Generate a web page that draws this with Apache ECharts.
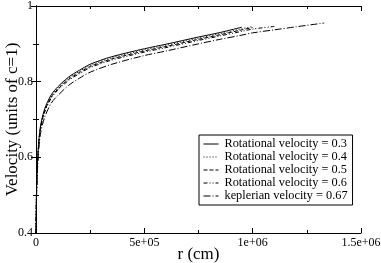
<!DOCTYPE html>
<html><head><meta charset="utf-8">
<script src="https://cdn.jsdelivr.net/npm/echarts@6/dist/echarts.min.js"></script>
<style>html,body{margin:0;padding:0;background:#fff}#c{width:381px;height:263px}</style>
</head><body><div id="c"></div>
<script>
const seriesNames = ['Rotational velocity = 0.3','Rotational velocity = 0.4','Rotational velocity = 0.5','Rotational velocity = 0.6','keplerian velocity = 0.67'];
const rGrid = [0, 2e3, 5e3, 1e4, 2e4, 4e4, 7e4, 1e5, 1.5e5, 2e5, 2.5e5, 3.5e5, 5e5, 6e5, 7.5e5, 8.5e5, 9.5e5, 1.0e6, 1.1e6, 1.2e6, 1.33e6];
const v03 = [0.40, 0.50, 0.56, 0.62, 0.68, 0.728, 0.765, 0.786, 0.812, 0.830, 0.846, 0.866, 0.887, 0.899, 0.918, 0.930, 0.944];
const v04 = [0.40, 0.497, 0.557, 0.617, 0.677, 0.725, 0.762, 0.783, 0.809, 0.827, 0.843, 0.863, 0.884, 0.896, 0.915, 0.927, 0.940, 0.946];
const v05 = [0.40, 0.494, 0.554, 0.614, 0.674, 0.722, 0.759, 0.780, 0.806, 0.824, 0.840, 0.860, 0.881, 0.893, 0.912, 0.924, 0.937, 0.943];
const v06 = [0.40, 0.491, 0.551, 0.611, 0.671, 0.719, 0.756, 0.777, 0.803, 0.821, 0.837, 0.857, 0.878, 0.890, 0.909, 0.921, 0.933, 0.939, 0.946];
const vKep = [0.40, 0.48, 0.54, 0.60, 0.66, 0.706, 0.743, 0.763, 0.790, 0.809, 0.825, 0.846, 0.869, 0.881, 0.900, 0.912, 0.923, 0.929, 0.937, 0.945, 0.955];
const xTicks = ['0','5e+05','1e+06','1.5e+06'];
const yTicks = ['0.4','0.6','0.8','1'];

const allV = [v03, v04, v05, v06, vKep];
const dashes = ['solid', [1,2], [4,2], [4,2,1,2,1,2], [7,2,1,2]];
const FONT = 'Liberation Serif';
const chart = echarts.init(document.getElementById('c'));
const axisCommon = {
  axisLine:{lineStyle:{color:'#000',width:1}},
  axisTick:{inside:true,length:5,lineStyle:{color:'#000'}},
  minorTick:{show:true,splitNumber:2,length:3,lineStyle:{color:'#000'}},
  splitLine:{show:false}
};
chart.setOption({
  animation:false,
  grid:{left:36,right:20,top:6,bottom:30,containLabel:false,outerBoundsMode:'none'},
  legend:{
    orient:'vertical', left:199, top:135, data:seriesNames,
    itemWidth:15, itemHeight:8, itemGap:1,
    borderColor:'#000', borderWidth:1, padding:[3,5,3,4],
    backgroundColor:'#fff',
    itemStyle:{opacity:0},
    lineStyle:{width:1},
    textStyle:{fontFamily:FONT,fontSize:12.3,lineHeight:12,color:'#000',padding:[0,0,0,1]}
  },
  xAxis:[
    Object.assign({type:'value',min:0,max:1.5e6,interval:5e5,position:'bottom',
      name:'r (cm)',nameLocation:'middle',nameGap:13,nameMoveOverlap:false,
      nameTextStyle:{fontFamily:FONT,fontSize:17,color:'#000',verticalAlign:'top'},
      axisLabel:{margin:4,fontFamily:FONT,fontSize:12,color:'#000',
        formatter:(v)=>xTicks[Math.round(v/5e5)]}}, axisCommon),
    Object.assign({type:'value',min:0,max:1.5e6,interval:5e5,position:'top',
      axisLabel:{show:false}}, axisCommon)
  ],
  yAxis:[
    Object.assign({type:'value',min:0.4,max:1,interval:0.2,position:'left',
      name:'Velocity (units of c=1)',nameLocation:'middle',nameGap:15,nameMoveOverlap:false,
      nameTextStyle:{fontFamily:FONT,fontSize:17,color:'#000'},
      axisLabel:{margin:3,fontFamily:FONT,fontSize:12,color:'#000',
        formatter:(v)=>yTicks[Math.round((v-0.4)/0.2)]}}, axisCommon),
    Object.assign({type:'value',min:0.4,max:1,interval:0.2,position:'right',
      axisLabel:{show:false}}, axisCommon)
  ],
  series: seriesNames.map((n,i)=>({
    name:n, type:'line', showSymbol:false, symbol:'none', smooth:0.3,
    data: allV[i].map((v,j)=>[rGrid[j], v]),
    lineStyle:{color:'#000',width:1,type:dashes[i]},
    itemStyle:{color:'#000'}
  }))
});
</script></body></html>
